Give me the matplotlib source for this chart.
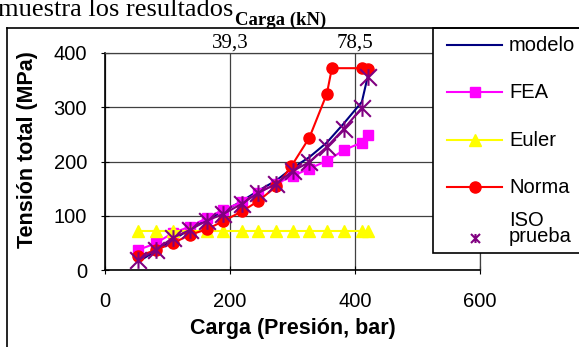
import matplotlib.pyplot as plt
from matplotlib.lines import Line2D
from matplotlib.patches import Rectangle
from matplotlib.path import Path

# Carga (Presion, bar) y tension total (MPa)
carga = [53, 81, 108, 136, 163, 189, 219, 245, 274, 300, 327, 355, 382, 411, 421]
modelo = [15, 35, 55, 75, 93, 108, 127, 146, 165, 188, 208, 235, 270, 310, 360]
fea = [37, 49, 68, 80, 96, 111, 125, 142, 159, 173, 187, 201, 221, 235, 248]
euler = [72, 72, 72, 72, 72, 72, 72, 72, 72, 72, 72, 72, 72, 72, 72]
iso = [18, 37, 59, 74, 91, 103, 122, 142, 159, 182, 199, 227, 260, 299, 355]
carga_norma = [53, 81, 108, 136, 163, 189, 219, 245, 274, 298, 327, 355, 363, 411, 421]
norma = [25, 37, 49, 65, 75, 90, 108, 127, 154, 191, 244, 325, 372, 372, 370]

ticks_kn = [200, 400]
labels_kn = ["39,3", "78,5"]

sans = "Liberation Sans"
serif = "Liberation Serif"
plt.rcParams["font.family"] = sans

# marcador estrella de Excel: X con barra vertical
estrella = Path([(-1, -1), (1, 1), (-1, 1), (1, -1), (0, -1), (0, 1)],
                [Path.MOVETO, Path.LINETO, Path.MOVETO, Path.LINETO, Path.MOVETO, Path.LINETO])

W, H = 579, 347
fig = plt.figure(figsize=(W / 100, H / 100), dpi=100)
ax = fig.add_axes([105 / W, 1 - 270 / H, 375 / W, 217 / H])

lw = 1.5
ax.plot(carga, modelo, color="#000080", lw=lw, zorder=3)
ax.plot(carga, fea, color="#FF00FF", lw=lw, marker="s", ms=7, zorder=3)
ax.plot(carga, euler, color="#FFFF00", lw=lw, marker="^", ms=9, zorder=3)
ax.plot(carga_norma, norma, color="#FF0000", lw=lw, marker="o", ms=8, zorder=4)
ax.plot(carga[:-1], iso[:-1], color="#800080", lw=lw, zorder=5)
ax.plot(carga, iso, ls="none", marker=estrella, ms=12, mew=1.5,
        mec="#800080", mfc="none", zorder=5)

ax.set_xlim(0, 600)
ax.set_ylim(0, 400)
ax.set_xticks([0, 200, 400, 600])
ax.set_yticks([0, 100, 200, 300, 400])
ax.grid(True, color="#404040", lw=0.9)
ax.set_axisbelow(True)
for s in ["top", "right"]:
    ax.spines[s].set_color("#404040")
    ax.spines[s].set_linewidth(0.9)
for s in ["left", "bottom"]:
    ax.spines[s].set_linewidth(1.2)
ax.tick_params(axis="x", direction="inout", length=6, pad=13, labelsize=14.5)
ax.tick_params(axis="y", direction="inout", length=6, pad=10, labelsize=14.5)

ax.set_xlabel("Carga (Presión, bar)", fontsize=15.5, fontweight="bold", va="center")
ax.xaxis.set_label_coords(0.5, -0.27)
ax.set_ylabel("Tensión total (MPa)", fontsize=15.5, fontweight="bold", va="center")
ax.yaxis.set_label_coords(-0.208, 0.556)

sec = ax.secondary_xaxis("top")
sec.set_xticks(ticks_kn)
sec.set_xticklabels(labels_kn, fontfamily=serif, fontsize=15)
sec.tick_params(length=0, pad=0)
sec.spines["top"].set_visible(False)

# marco exterior del grafico
fig.add_artist(Line2D([7 / W, 7 / W], [0, 1 - 28 / H], color="black", lw=1.2))
fig.add_artist(Line2D([7 / W, 1], [1 - 28 / H, 1 - 28 / H], color="black", lw=1.2))

fig.text(233 / W, 1 - 16 / H, "muestra los resultados", fontfamily=serif, fontsize=19,
         ha="right", va="baseline")
fig.text(235 / W, 1 - 25 / H, "Carga (kN)", fontfamily=serif, fontsize=13.5,
         fontweight="bold", ha="left", va="baseline")

# leyenda
lg = fig.add_axes([433 / W, 1 - 253 / H, (W - 433) / W, 225 / H])
lg.set_xlim(433, W)
lg.set_ylim(253, 28)
lg.axis("off")
lg.add_patch(Rectangle((433, 28), W - 433 + 5, 225, fc="white", ec="black", lw=1.2,
                       clip_on=False))
entradas = [
    ("modelo", 45, "#000080", None, 0),
    ("FEA", 92, "#FF00FF", "s", 7),
    ("Euler", 140, "#FFFF00", "^", 9),
    ("Norma", 187, "#FF0000", "o", 8),
]
for nombre, yy, color, marca, tam in entradas:
    lg.plot([447, 502], [yy, yy], color=color, lw=lw)
    if marca:
        lg.plot([474.5], [yy], ls="none", marker=marca, ms=tam, color=color)
    lg.text(509, yy, nombre, fontsize=14.5, va="center")
lg.plot([474.5], [238], ls="none", marker=estrella, ms=6.5, mew=1.5, mec="#800080")
lg.text(509, 228, "ISO\nprueba", fontsize=14.5, va="center", linespacing=0.8)

fig.savefig("out.png", dpi=100)
